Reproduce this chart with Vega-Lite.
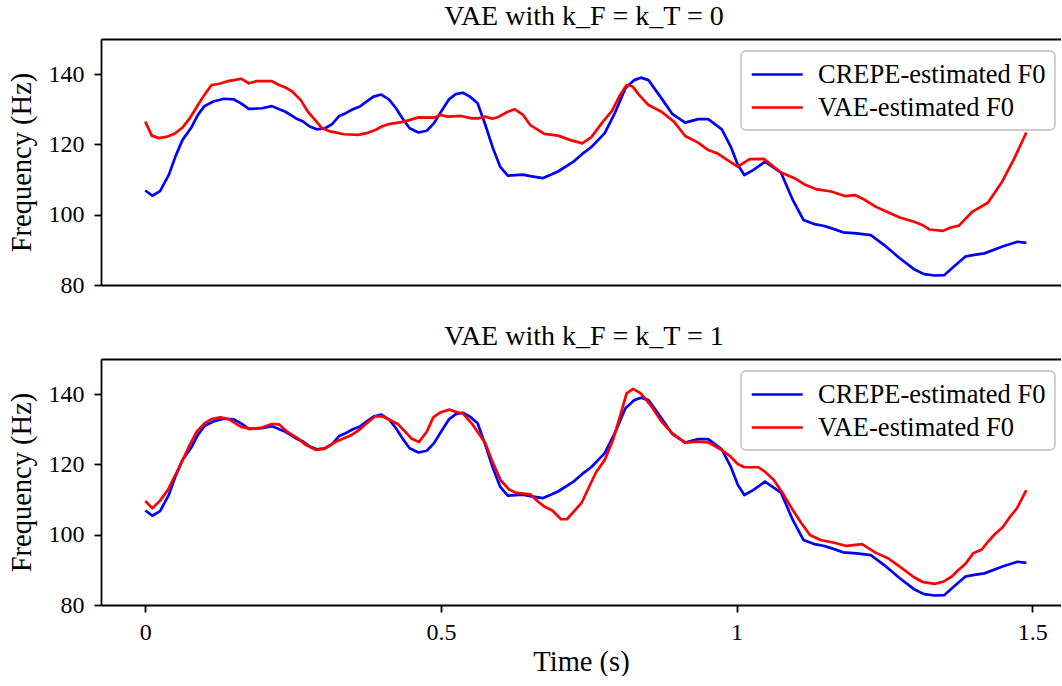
{
  "$schema": "https://vega.github.io/schema/vega-lite/v6.json",
  "padding": {"left": 7, "top": 3, "right": 0, "bottom": 0},
  "config": {
    "font": "Liberation Serif",
    "view": {"stroke": null},
    "concat": {"spacing": 26},
    "axis": {
      "domainColor": "#000000", "domainWidth": 1.8,
      "tickColor": "#000000", "tickWidth": 1.8, "tickSize": 7,
      "labelColor": "#000000", "labelFontSize": 24, "labelFont": "Liberation Serif",
      "titleColor": "#000000", "titleFontSize": 28.5, "titleFontWeight": "normal", "titleFont": "Liberation Serif",
      "grid": false
    },
    "title": {"fontSize": 28, "fontWeight": "normal", "color": "#000000", "font": "Liberation Serif", "baseline": "alphabetic", "offset": 8, "anchor": "middle", "dx": 3},
    "legend": {
      "orient": "none", "legendX": 640, "legendY": 12,
      "fillColor": "rgba(255,255,255,0.8)", "strokeColor": "#cccccc", "strokeWidth": 1.8, "cornerRadius": 5,
      "padding": 9, "rowPadding": 5, "labelLimit": 0,
      "symbolType": "M-1,0H3", "symbolSize": 650, "symbolStrokeWidth": 2.7,
      "labelOffset": 39, "labelFontSize": 26.5, "labelFont": "Liberation Serif", "labelColor": "#000000",
      "title": null
    }
  },
  "datasets": {
    "crepe": [
      {"t":0,"f":106.9},{"t":0.012,"f":105.4},{"t":0.025,"f":106.7},{"t":0.04,"f":111.4},{"t":0.051,"f":116.6},
      {"t":0.063,"f":121.3},{"t":0.077,"f":124.6},{"t":0.089,"f":128.4},{"t":0.1,"f":130.9},{"t":0.115,"f":132.2},
      {"t":0.133,"f":133.0},{"t":0.15,"f":132.8},{"t":0.162,"f":131.7},{"t":0.175,"f":130.1},{"t":0.197,"f":130.3},
      {"t":0.214,"f":130.9},{"t":0.237,"f":129.3},{"t":0.255,"f":127.4},{"t":0.267,"f":126.5},{"t":0.278,"f":125.1},
      {"t":0.29,"f":124.3},{"t":0.304,"f":124.6},{"t":0.316,"f":125.8},{"t":0.328,"f":128.1},{"t":0.339,"f":128.9},
      {"t":0.351,"f":130.0},{"t":0.363,"f":130.8},{"t":0.374,"f":132.2},{"t":0.386,"f":133.6},{"t":0.399,"f":134.2},
      {"t":0.412,"f":132.8},{"t":0.424,"f":130.3},{"t":0.435,"f":127.4},{"t":0.447,"f":124.6},{"t":0.462,"f":123.4},
      {"t":0.476,"f":123.9},{"t":0.488,"f":126.0},{"t":0.502,"f":129.8},{"t":0.514,"f":132.9},{"t":0.525,"f":134.3},
      {"t":0.537,"f":134.7},{"t":0.549,"f":133.6},{"t":0.562,"f":131.7},{"t":0.575,"f":125.6},{"t":0.588,"f":118.9},
      {"t":0.6,"f":113.7},{"t":0.613,"f":111.1},{"t":0.639,"f":111.4},{"t":0.651,"f":111.0},{"t":0.672,"f":110.4},
      {"t":0.698,"f":112.3},{"t":0.724,"f":115.1},{"t":0.739,"f":117.3},{"t":0.754,"f":119.2},{"t":0.777,"f":123.2},
      {"t":0.794,"f":128.9},{"t":0.812,"f":136.0},{"t":0.827,"f":138.3},{"t":0.838,"f":139.0},{"t":0.851,"f":138.3},
      {"t":0.873,"f":133.1},{"t":0.891,"f":128.7},{"t":0.913,"f":126.2},{"t":0.935,"f":127.2},{"t":0.952,"f":127.2},
      {"t":0.975,"f":124.3},{"t":0.99,"f":119.4},{"t":1.002,"f":114.2},{"t":1.013,"f":111.3},{"t":1.028,"f":112.7},
      {"t":1.048,"f":115.1},{"t":1.075,"f":112.0},{"t":1.095,"f":104.2},{"t":1.113,"f":98.5},{"t":1.13,"f":97.4},
      {"t":1.148,"f":96.8},{"t":1.165,"f":95.9},{"t":1.18,"f":95.0},{"t":1.203,"f":94.7},{"t":1.227,"f":94.2},
      {"t":1.253,"f":90.9},{"t":1.276,"f":87.6},{"t":1.3,"f":84.5},{"t":1.317,"f":83.1},{"t":1.335,"f":82.7},
      {"t":1.351,"f":82.8},{"t":1.367,"f":85.2},{"t":1.387,"f":88.1},{"t":1.399,"f":88.5},{"t":1.419,"f":89.0},
      {"t":1.452,"f":91.1},{"t":1.475,"f":92.3},{"t":1.49,"f":92.0}
    ],
    "vae0": [
      {"t":0,"f":126.5},{"t":0.011,"f":122.5},{"t":0.023,"f":121.8},{"t":0.037,"f":122.2},{"t":0.051,"f":123.2},
      {"t":0.063,"f":124.8},{"t":0.075,"f":127.4},{"t":0.089,"f":131.2},{"t":0.1,"f":134.1},{"t":0.112,"f":136.9},
      {"t":0.124,"f":137.2},{"t":0.139,"f":138.0},{"t":0.15,"f":138.3},{"t":0.162,"f":138.7},{"t":0.175,"f":137.4},
      {"t":0.188,"f":138.0},{"t":0.214,"f":138.0},{"t":0.226,"f":136.9},{"t":0.237,"f":136.2},{"t":0.249,"f":135.0},
      {"t":0.263,"f":132.6},{"t":0.275,"f":129.3},{"t":0.287,"f":127.0},{"t":0.299,"f":124.6},{"t":0.313,"f":123.7},
      {"t":0.336,"f":122.9},{"t":0.36,"f":122.7},{"t":0.374,"f":123.2},{"t":0.389,"f":124.1},{"t":0.4,"f":125.1},
      {"t":0.412,"f":125.8},{"t":0.438,"f":126.5},{"t":0.462,"f":127.7},{"t":0.488,"f":127.6},{"t":0.499,"f":128.4},
      {"t":0.511,"f":127.9},{"t":0.534,"f":128.1},{"t":0.552,"f":127.4},{"t":0.563,"f":127.4},{"t":0.575,"f":127.9},
      {"t":0.587,"f":127.3},{"t":0.598,"f":127.9},{"t":0.613,"f":129.3},{"t":0.625,"f":130.0},{"t":0.639,"f":128.4},
      {"t":0.651,"f":125.5},{"t":0.675,"f":123.0},{"t":0.698,"f":122.5},{"t":0.718,"f":121.3},{"t":0.739,"f":120.3},
      {"t":0.754,"f":122.0},{"t":0.774,"f":126.5},{"t":0.789,"f":129.5},{"t":0.803,"f":134.1},{"t":0.814,"f":136.9},
      {"t":0.824,"f":136.5},{"t":0.835,"f":134.1},{"t":0.851,"f":131.2},{"t":0.873,"f":129.3},{"t":0.894,"f":126.5},
      {"t":0.913,"f":122.4},{"t":0.935,"f":120.5},{"t":0.952,"f":118.4},{"t":0.967,"f":117.5},{"t":0.984,"f":115.6},
      {"t":1.002,"f":113.7},{"t":1.022,"f":115.8},{"t":1.046,"f":115.9},{"t":1.075,"f":112.0},{"t":1.098,"f":110.4},
      {"t":1.116,"f":108.5},{"t":1.136,"f":107.2},{"t":1.16,"f":106.6},{"t":1.183,"f":105.3},{"t":1.2,"f":105.6},
      {"t":1.215,"f":104.4},{"t":1.235,"f":102.3},{"t":1.253,"f":100.9},{"t":1.276,"f":99.2},{"t":1.3,"f":98.0},
      {"t":1.314,"f":97.1},{"t":1.326,"f":95.8},{"t":1.349,"f":95.4},{"t":1.361,"f":96.3},{"t":1.376,"f":96.9},
      {"t":1.399,"f":100.9},{"t":1.425,"f":103.4},{"t":1.449,"f":109.4},{"t":1.469,"f":115.8},{"t":1.49,"f":123.4}
    ],
    "vae1": [
      {"t":0,"f":109.6},{"t":0.012,"f":107.5},{"t":0.025,"f":109.7},{"t":0.038,"f":112.7},{"t":0.051,"f":117.0},
      {"t":0.063,"f":121.2},{"t":0.075,"f":125.5},{"t":0.087,"f":129.3},{"t":0.1,"f":131.7},{"t":0.112,"f":132.9},
      {"t":0.127,"f":133.4},{"t":0.141,"f":132.9},{"t":0.162,"f":130.7},{"t":0.179,"f":130.1},{"t":0.197,"f":130.5},
      {"t":0.214,"f":131.5},{"t":0.226,"f":131.4},{"t":0.24,"f":129.3},{"t":0.258,"f":127.4},{"t":0.272,"f":125.5},
      {"t":0.289,"f":124.1},{"t":0.302,"f":124.4},{"t":0.325,"f":126.7},{"t":0.348,"f":128.3},{"t":0.363,"f":130.0},
      {"t":0.377,"f":132.1},{"t":0.389,"f":133.7},{"t":0.4,"f":133.7},{"t":0.412,"f":132.8},{"t":0.427,"f":131.5},
      {"t":0.438,"f":129.6},{"t":0.45,"f":127.4},{"t":0.463,"f":126.4},{"t":0.476,"f":129.3},{"t":0.487,"f":133.4},
      {"t":0.499,"f":134.8},{"t":0.514,"f":135.6},{"t":0.525,"f":135.0},{"t":0.537,"f":134.5},{"t":0.552,"f":131.7},
      {"t":0.563,"f":129.0},{"t":0.575,"f":126.0},{"t":0.587,"f":120.8},{"t":0.601,"f":115.5},{"t":0.615,"f":112.9},
      {"t":0.627,"f":111.9},{"t":0.651,"f":111.5},{"t":0.665,"f":109.3},{"t":0.675,"f":108.0},{"t":0.689,"f":106.8},
      {"t":0.703,"f":104.4},{"t":0.713,"f":104.4},{"t":0.738,"f":109.1},{"t":0.762,"f":117.7},{"t":0.777,"f":121.3},
      {"t":0.791,"f":127.0},{"t":0.803,"f":133.8},{"t":0.814,"f":140.2},{"t":0.825,"f":141.5},{"t":0.838,"f":140.2},
      {"t":0.856,"f":136.5},{"t":0.873,"f":132.2},{"t":0.891,"f":128.9},{"t":0.913,"f":126.2},{"t":0.932,"f":126.5},
      {"t":0.952,"f":126.3},{"t":0.975,"f":124.1},{"t":0.99,"f":122.2},{"t":1.002,"f":120.1},{"t":1.013,"f":119.2},
      {"t":1.037,"f":119.2},{"t":1.048,"f":117.9},{"t":1.063,"f":115.6},{"t":1.078,"f":111.8},{"t":1.095,"f":107.0},
      {"t":1.11,"f":103.2},{"t":1.124,"f":99.9},{"t":1.142,"f":98.5},{"t":1.165,"f":97.7},{"t":1.186,"f":96.8},
      {"t":1.212,"f":97.3},{"t":1.235,"f":94.9},{"t":1.256,"f":93.3},{"t":1.276,"f":90.9},{"t":1.3,"f":87.9},
      {"t":1.314,"f":86.6},{"t":1.335,"f":86.0},{"t":1.349,"f":86.6},{"t":1.364,"f":88.1},{"t":1.374,"f":89.8},
      {"t":1.387,"f":91.7},{"t":1.4,"f":94.7},{"t":1.414,"f":95.7},{"t":1.425,"f":98.0},{"t":1.437,"f":100.2},
      {"t":1.45,"f":102.1},{"t":1.462,"f":105.0},{"t":1.474,"f":107.5},{"t":1.49,"f":112.7}
    ]
  },
  "vconcat": [
    {
      "title": "VAE with k_F = k_T = 0",
      "width": 960,
      "height": 246,
      "layer": [
        {
          "data": {"name": "crepe"},
          "mark": {"type": "line", "strokeWidth": 2.7, "strokeJoin": "round"},
          "encoding": {
            "x": {"field": "t", "type": "quantitative", "scale": {"domain": [-0.0749, 1.5486], "nice": false, "zero": false},
                  "axis": {"orient": "bottom", "labels": false, "ticks": false, "title": null}},
            "y": {"field": "f", "type": "quantitative", "scale": {"domain": [80, 150], "nice": false, "zero": false},
                  "axis": {"values": [80, 100, 120, 140], "title": "Frequency (Hz)", "labelPadding": 10, "titlePadding": 12}},
            "color": {"datum": "CREPE-estimated F0", "type": "nominal",
                      "scale": {"domain": ["CREPE-estimated F0", "VAE-estimated F0"], "range": ["#0000ff", "#ff0000"]}}
          }
        },
        {
          "data": {"name": "vae0"},
          "mark": {"type": "line", "strokeWidth": 2.7, "strokeJoin": "round"},
          "encoding": {
            "x": {"field": "t", "type": "quantitative", "axis": {"orient": "top", "labels": false, "ticks": false, "title": null}},
            "y": {"field": "f", "type": "quantitative"},
            "color": {"datum": "VAE-estimated F0", "type": "nominal"}
          }
        }
      ],
      "resolve": {"axis": {"x": "independent"}}
    },
    {
      "title": "VAE with k_F = k_T = 1",
      "width": 960,
      "height": 246,
      "layer": [
        {
          "data": {"name": "crepe"},
          "mark": {"type": "line", "strokeWidth": 2.7, "strokeJoin": "round"},
          "encoding": {
            "x": {"field": "t", "type": "quantitative", "scale": {"domain": [-0.0749, 1.5486], "nice": false, "zero": false},
                  "axis": {"orient": "bottom", "values": [0, 0.5, 1, 1.5], "format": "~g", "title": "Time (s)", "labelPadding": 8, "titlePadding": 3}},
            "y": {"field": "f", "type": "quantitative", "scale": {"domain": [80, 150], "nice": false, "zero": false},
                  "axis": {"values": [80, 100, 120, 140], "title": "Frequency (Hz)", "labelPadding": 10, "titlePadding": 12}},
            "color": {"datum": "CREPE-estimated F0", "type": "nominal",
                      "scale": {"domain": ["CREPE-estimated F0", "VAE-estimated F0"], "range": ["#0000ff", "#ff0000"]}}
          }
        },
        {
          "data": {"name": "vae1"},
          "mark": {"type": "line", "strokeWidth": 2.7, "strokeJoin": "round"},
          "encoding": {
            "x": {"field": "t", "type": "quantitative", "axis": {"orient": "top", "labels": false, "ticks": false, "title": null}},
            "y": {"field": "f", "type": "quantitative"},
            "color": {"datum": "VAE-estimated F0", "type": "nominal"}
          }
        }
      ],
      "resolve": {"axis": {"x": "independent"}}
    }
  ],
  "resolve": {"scale": {"color": "independent"}, "legend": {"color": "independent"}}
}
